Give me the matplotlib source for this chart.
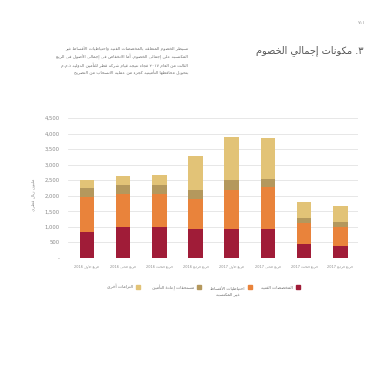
#!/usr/bin/env python3
"""Stacked quarterly liabilities chart with Arabic labels."""

import re

import matplotlib

matplotlib.use("Agg")

import numpy as np
from matplotlib import pyplot as plt
from matplotlib.patches import Rectangle

W = 380
H = 380
DPI = 100
GRID = "#e3e3e3"
TICK = "#8a8a8a"
TEXT = "#6f6f6f"

quarters = [
    "الربع الأول 2016",
    "الربع الثاني 2016",
    "الربع الثالث 2016",
    "الربع الرابع 2016",
    "الربع الأول 2017",
    "الربع الثاني 2017",
    "الربع الثالث 2017",
    "الربع الرابع 2017",
]
series_names = [
    "المخصصات الفنية",
    "احتياطيات الأقساط\nغير المكتسبة",
    "مستحقات إعادة التأمين",
    "التزامات أخرى",
]
series_colors = ["#a01c38", "#e9833b", "#b4985d", "#e2c377"]
technical_provisions = [830, 990, 990, 940, 920, 940, 460, 400]
unearned_premiums = [1120, 1070, 1070, 955, 1265, 1340, 680, 585]
reinsurance_payables = [300, 280, 280, 280, 330, 270, 160, 160]
other_liabilities = [270, 300, 320, 1090, 1380, 1320, 510, 535]
y_ticks = [0, 500, 1000, 1500, 2000, 2500, 3000, 3500, 4000, 4500]

# --- minimal Arabic shaping (presentation forms) + right-to-left ordering ---
LETTERS = "ءآأؤإئابةتثجحخدذرزسشصضطظعغفقكلمنهوىي"
COUNTS = [1, 2, 2, 2, 2, 4, 2, 4, 2, 4, 4, 4, 4, 4, 2, 2, 2, 2, 4, 4,
          4, 4, 4, 4, 4, 4, 4, 4, 4, 4, 4, 4, 4, 2, 2, 4]
FORMS = {}
_code = 0xFE80
for _ch, _n in zip(LETTERS, COUNTS):
    FORMS[_ch] = [chr(_code + k) for k in range(_n)]
    _code += _n
LAM_ALEF = {
    "آ": [chr(0xFEF5), chr(0xFEF6)],
    "أ": [chr(0xFEF7), chr(0xFEF8)],
    "إ": [chr(0xFEF9), chr(0xFEFA)],
    "ا": [chr(0xFEFB), chr(0xFEFC)],
}


def ar(text):
    """Shape Arabic letters and return the string in visual order."""
    text = re.sub("[\u064B-\u0652]", "", text)
    units = []
    i = 0
    while i < len(text):
        ch = text[i]
        if ch == "ل" and i + 1 < len(text) and text[i + 1] in LAM_ALEF:
            units.append(LAM_ALEF[text[i + 1]])
            i += 2
            continue
        units.append(FORMS.get(ch, ch))
        i += 1
    out = []
    for k, u in enumerate(units):
        if isinstance(u, str):
            out.append(u)
            continue
        prev = units[k - 1] if k > 0 else None
        nxt = units[k + 1] if k + 1 < len(units) else None
        joins_prev = isinstance(prev, list) and len(prev) == 4 and len(u) >= 2
        joins_next = len(u) == 4 and isinstance(nxt, list)
        if joins_prev and joins_next:
            out.append(u[3])
        elif joins_prev:
            out.append(u[1])
        elif joins_next:
            out.append(u[2])
        else:
            out.append(u[0])
    tokens = re.findall(r"[0-9\u0660-\u0669A-Za-z,]+|.", "".join(out))
    return "".join(reversed(tokens))


def ar_lines(text):
    return "\n".join(ar(line) for line in text.split("\n"))


def fx(x):
    return x / W


def fy(y):
    return 1 - y / H


fig = plt.figure(figsize=(W / DPI, H / DPI), dpi=DPI, facecolor="white")
ax = fig.add_axes([fx(68), fy(258), (358 - 68) / W, (258 - 118) / H])

x = np.arange(len(quarters))
stack = [technical_provisions, unearned_premiums, reinsurance_payables, other_liabilities]
bottom = np.zeros(len(quarters))
for values, color in zip(stack, series_colors):
    ax.bar(x, values, bottom=bottom, width=0.4, color=color, zorder=3)
    bottom += np.array(values)

ax.set_xlim(-0.525, 7.49)
ax.set_ylim(0, 4500)
ax.set_yticks(y_ticks)
ax.set_yticklabels(["-" if v == 0 else f"{v:,}" for v in y_ticks])
ax.set_xticks(x)
ax.set_xticklabels([ar(q) for q in quarters])
ax.tick_params(axis="x", length=0, labelsize=2.5, colors=TICK, pad=4.5)
ax.tick_params(axis="y", length=0, labelsize=3.8, colors=TICK, pad=6)
ax.grid(axis="y", color=GRID, linewidth=0.6, zorder=0)
for spine in ax.spines.values():
    spine.set_visible(False)

fig.text(fx(33), fy(195), ar("مليون ريال قطري"), rotation=90,
         ha="center", va="center", fontsize=3.2, color=TICK)

# heading, body copy and page number
fig.text(fx(363), fy(51), ar("٣. مكونات إجمالي الخصوم"), ha="right",
         va="center", fontsize=7.0, color="#555555")
body = (
    "تسيطر الخصوم المتعلقة بالمخصصات الفنية واحتياطيات الأقساط غير\n"
    "المكتسبة على إجمالي الخصوم. أما الانخفاض في إجمالي الأصول في الربع\n"
    "الثالث من العام ٢٠١٧ فجاء نتيجة قيام شركة قطر للتأمين الدولية ذ.م.م\n"
    "بتحويل محافظها التأمينية كجزء من عملية الانسحاب من التصريح"
)
fig.text(fx(188), fy(46), ar_lines(body), ha="right", va="top",
         fontsize=3.2, color=TEXT, linespacing=1.6, multialignment="right")
fig.text(fx(366), fy(22), ar("٧١١"), ha="right", va="center",
         fontsize=3.6, color="#9a9a9a")

# right-to-left legend: swatch sits to the right of its label
legend_x = [298, 250, 199, 138]
for name, color, mx in zip(series_names, series_colors, legend_x):
    fig.patches.append(Rectangle((fx(mx - 2), fy(289)), 4 / W, 4 / H,
                                 transform=fig.transFigure, color=color))
    fig.text(fx(mx - 5), fy(287), ar_lines(name), ha="right", va="top"
             if "\n" in name else "center", fontsize=3.2, color=TEXT,
             multialignment="center", linespacing=1.5)

fig.savefig("out.png", dpi=DPI, facecolor="white")
